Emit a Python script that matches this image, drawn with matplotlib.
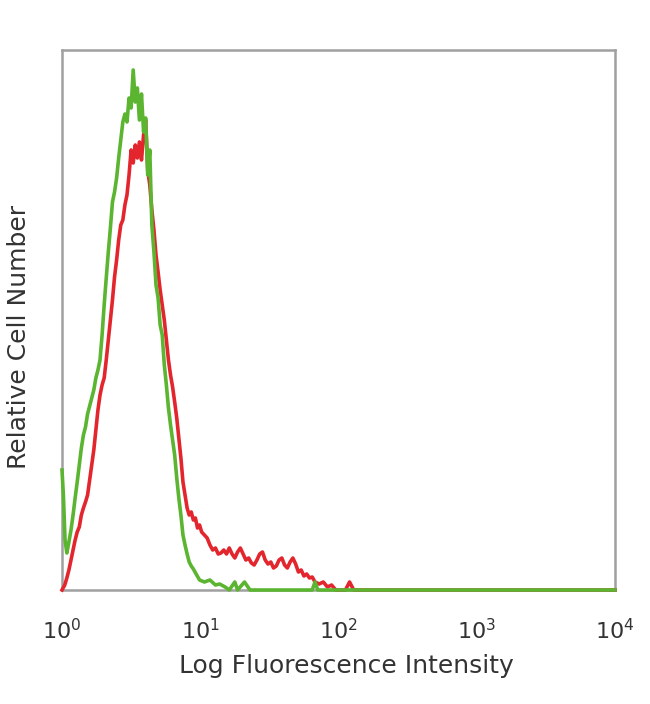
import numpy as np
import matplotlib
matplotlib.use("Agg")
import matplotlib.pyplot as plt

# log10 fluorescence position (decades) and relative cell counts
red_log = [0.00, 0.02, 0.035, 0.05, 0.065, 0.08, 0.095, 0.11, 0.125, 0.14, 0.155, 0.17, 0.185,
           0.20, 0.215, 0.23, 0.245, 0.26, 0.275, 0.29, 0.305, 0.32, 0.335, 0.35, 0.365, 0.38,
           0.395, 0.41, 0.425, 0.44, 0.455, 0.47, 0.485, 0.50, 0.515, 0.53, 0.545, 0.56, 0.575,
           0.59, 0.605, 0.62, 0.635, 0.65, 0.665, 0.68, 0.695, 0.71, 0.725, 0.74, 0.755, 0.77,
           0.785, 0.80, 0.815, 0.83, 0.845, 0.86, 0.875, 0.89, 0.905, 0.92, 0.935, 0.95, 0.965,
           0.98, 0.995, 1.01, 1.03, 1.05, 1.07, 1.09, 1.11, 1.13, 1.15, 1.17, 1.19, 1.21, 1.23,
           1.25, 1.27, 1.29, 1.31, 1.33, 1.35, 1.37, 1.39, 1.41, 1.43, 1.45, 1.47, 1.49, 1.51,
           1.53, 1.55, 1.57, 1.59, 1.61, 1.63, 1.65, 1.67, 1.69, 1.71, 1.73, 1.75, 1.77, 1.79,
           1.81, 1.83, 1.86, 1.89, 1.92, 1.95, 1.98, 2.05, 2.08, 2.11, 4.00]
red_counts = [0, 5, 12, 20, 30, 40, 50, 58, 63, 75, 82, 88, 95,
              110, 125, 140, 160, 180, 195, 205, 212, 230, 250, 270, 290, 313,
              330, 350, 365, 370, 385, 395, 415, 440, 427, 445, 432, 448, 430,
              455, 470, 420, 405, 380, 360, 335, 318, 300, 285, 270, 250, 230,
              215, 203, 188, 172, 152, 132, 108, 95, 82, 75, 78, 70, 72,
              62, 65, 58, 55, 52, 45, 40, 42, 36, 37, 40, 36, 42, 36,
              32, 38, 42, 36, 30, 32, 27, 25, 30, 36, 38, 30, 26, 28,
              22, 24, 30, 32, 25, 22, 28, 32, 26, 18, 20, 14, 16, 12,
              13, 8, 6, 8, 3, 5, 0, 0, 8, 0, 0]

green_log = [0.000, 0.010, 0.022, 0.035, 0.05, 0.065, 0.08, 0.095, 0.11, 0.125, 0.14, 0.155,
             0.17, 0.185, 0.20, 0.215, 0.23, 0.245, 0.26, 0.275, 0.29, 0.305, 0.32, 0.335,
             0.35, 0.365, 0.38, 0.395, 0.41, 0.425, 0.44, 0.455, 0.47, 0.485, 0.50, 0.515,
             0.53, 0.545, 0.56, 0.575, 0.59, 0.605, 0.62, 0.635, 0.65, 0.665, 0.68, 0.695,
             0.71, 0.725, 0.74, 0.755, 0.77, 0.785, 0.80, 0.815, 0.83, 0.845, 0.86, 0.875,
             0.89, 0.905, 0.92, 0.935, 0.95, 0.97, 0.995, 1.03, 1.07, 1.11, 1.14, 1.18,
             1.21, 1.25, 1.27, 1.32, 1.36, 1.81, 1.83, 1.85, 4.00]
green_counts = [120, 95, 50, 37, 48, 60, 75, 92, 108, 125, 142, 155,
                163, 176, 184, 192, 200, 212, 220, 230, 255, 285, 312, 338,
                362, 388, 398, 412, 432, 450, 468, 476, 468, 492, 482, 520,
                488, 502, 470, 496, 458, 472, 415, 440, 365, 338, 305, 292,
                265, 255, 225, 205, 182, 165, 150, 135, 112, 92, 75, 55,
                45, 36, 28, 24, 21, 16, 10, 8, 10, 5, 6, 3,
                0, 8, 0, 8, 0, 0, 8, 0, 0]

decades = [0, 1, 2, 3, 4]
tick_labels = [r"$10^{%d}$" % d for d in decades]

fig = plt.figure(figsize=(6.5, 7.04), dpi=100)
ax = fig.add_axes([62 / 650, 114 / 704, 553 / 650, 540 / 704])

ax.plot(np.power(10.0, red_log), red_counts, color="#e3262d", lw=2.6, clip_on=False, zorder=3)
ax.plot(np.power(10.0, green_log), green_counts, color="#5bb531", lw=2.6, clip_on=False, zorder=4)

ax.set_xscale("log")
ax.set_xlim(1, 1e4)
ax.set_ylim(0, 540)
ax.set_xticks([10.0 ** d for d in decades])
ax.set_xticklabels(tick_labels)
ax.minorticks_off()
ax.set_yticks([])
ax.tick_params(axis="x", length=0, pad=20, labelsize=16, labelcolor="#333333")

for s in ax.spines.values():
    s.set_color("#a0a0a0")
    s.set_linewidth(1.8)

ax.set_xlabel("Log Fluorescence Intensity", fontsize=18, color="#333333")
ax.xaxis.set_label_coords(0.514, -0.118)
ax.set_ylabel("Relative Cell Number", fontsize=18, color="#333333")
ax.yaxis.set_label_coords(-0.056, 0.469)

fig.savefig("out.png", dpi=100)
